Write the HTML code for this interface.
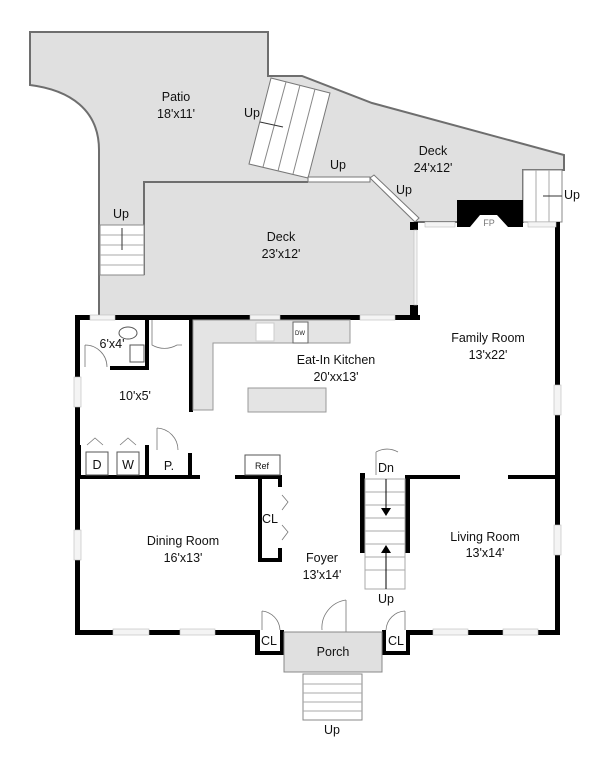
<!DOCTYPE html>
<html><head><meta charset="utf-8"><style>
html,body{margin:0;padding:0;background:#fff}
svg{display:block}
text{font-family:"Liberation Sans",sans-serif;font-size:12.5px;fill:#111;text-anchor:middle}
.s{font-size:11px}
</style></head><body>
<svg width="608" height="768" viewBox="0 0 608 768" xmlns="http://www.w3.org/2000/svg">
<path d="M30,32 L268,32 L268,76 L302,76 L372,103 L564,155 L564,170 L523,170 L523,222 L415,222 L415,318 L99,318 L99,150 C99,110 70,90 30,85 Z" fill="#e0e0e0" stroke="#6e6e6e" stroke-width="2"/>
<path d="M144,275 L144,182 L308,182" fill="none" stroke="#6e6e6e" stroke-width="2"/>
<rect x="100" y="225" width="44" height="50" fill="#fff" stroke="#888"/>
<g stroke="#aaa"><line x1="100" y1="235" x2="144" y2="235"/><line x1="100" y1="245" x2="144" y2="245"/><line x1="100" y1="255" x2="144" y2="255"/><line x1="100" y1="265" x2="144" y2="265"/></g>
<line x1="122" y1="228" x2="122" y2="250" stroke="#333"/>
<polygon points="271,78 330,93 308,178 249,164" fill="#fff" stroke="#777"/>
<g stroke="#888"><line x1="286" y1="82" x2="263" y2="167"/><line x1="300" y1="85" x2="278" y2="171"/><line x1="315" y1="89" x2="293" y2="174"/></g>
<line x1="260" y1="122" x2="283" y2="127" stroke="#333"/>
<rect x="308" y="177" width="62" height="5" fill="#fff" stroke="#777"/>
<polygon points="370,178 374,175 419,218 415,222" fill="#fff" stroke="#777"/>
<rect x="523" y="170" width="39" height="52" fill="#fff" stroke="#888"/>
<g stroke="#aaa"><line x1="536" y1="170" x2="536" y2="222"/><line x1="549" y1="170" x2="549" y2="222"/></g>
<line x1="543" y1="196" x2="562" y2="196" stroke="#333"/>
<rect x="457" y="200" width="66" height="27" fill="#000"/>
<polygon points="470,227 480,215 497,215 508,227" fill="#fff"/>
<text x="489" y="226" style="font-size:9px;fill:#777">FP</text>
<g fill="#000">
<rect x="75" y="315" width="5" height="320"/>
<rect x="75" y="630" width="185" height="5"/>
<rect x="255" y="630" width="5" height="25"/><rect x="255" y="651" width="30" height="4"/>
<rect x="280" y="630" width="4" height="25"/>
<rect x="382" y="630" width="4" height="25"/><rect x="382" y="651" width="28" height="4"/><rect x="406" y="630" width="4" height="25"/>
<rect x="406" y="630" width="154" height="5"/>
<rect x="555" y="222" width="5" height="413"/>
<rect x="410" y="222" width="8" height="8"/><rect x="410" y="305" width="8" height="15"/>
<rect x="75" y="315" width="345" height="5"/>
<rect x="145" y="315" width="4" height="55"/><rect x="110" y="366" width="39" height="4"/>
<rect x="189" y="320" width="4" height="92"/>
<rect x="75" y="475" width="125" height="4"/>
<rect x="78" y="445" width="3" height="32"/><rect x="145" y="445" width="4" height="32"/>
<rect x="188" y="453" width="4" height="25"/>
<rect x="235" y="475" width="45" height="4"/>
<rect x="258" y="475" width="4" height="87"/><rect x="258" y="558" width="24" height="4"/><rect x="278" y="475" width="4" height="12"/><rect x="278" y="548" width="4" height="14"/>
<rect x="360" y="473" width="5" height="80"/><rect x="405" y="475" width="5" height="78"/>
<rect x="405" y="475" width="55" height="4"/><rect x="508" y="475" width="50" height="4"/>
</g>
<g fill="#f4f4f4" stroke="#bbb" stroke-width="0.6">
<rect x="113" y="629" width="36" height="6"/><rect x="180" y="629" width="35" height="6"/>
<rect x="433" y="629" width="35" height="6"/><rect x="503" y="629" width="35" height="6"/>
<rect x="74" y="377" width="7" height="30"/><rect x="74" y="530" width="7" height="30"/>
<rect x="554" y="385" width="7" height="30"/><rect x="554" y="525" width="7" height="30"/>
<rect x="90" y="315" width="25" height="5"/><rect x="250" y="315" width="30" height="5"/><rect x="360" y="315" width="35" height="5"/>
<rect x="425" y="222" width="30" height="5"/><rect x="528" y="222" width="28" height="5"/>
<rect x="414" y="230" width="3" height="75"/>
</g>
<path d="M193,320 L350,320 L350,343 L213,343 L213,410 L193,410 Z" fill="#e4e4e4" stroke="#999"/>
<rect x="248" y="388" width="78" height="24" fill="#e4e4e4" stroke="#999"/>
<rect x="293" y="322" width="15" height="21" fill="#fff" stroke="#666"/><text x="300" y="335" style="font-size:6px">DW</text>
<rect x="256" y="323" width="18" height="18" fill="#fff" stroke="#ccc"/>
<ellipse cx="128" cy="333" rx="9" ry="6" fill="#fff" stroke="#555"/>
<rect x="130" y="345" width="14" height="17" fill="#fff" stroke="#555"/>
<g fill="none" stroke="#777" stroke-width="0.8">
<path d="M152,320 L152,345 A25,25 0 0 0 177,345 L182,345"/>
<path d="M85,345 A22,22 0 0 1 107,367 M85,345 L85,367"/>
<path d="M157,428 L157,450 M157,428 A22,22 0 0 1 178,450"/>
<path d="M376,452 L376,475 M376,452 A22,22 0 0 1 398,452"/>
<path d="M346,600 L346,632 M346,600 A28,28 0 0 0 322,630"/>
<path d="M262,611 L262,630 M262,611 A20,20 0 0 1 280,630"/>
<path d="M405,611 L405,630 M405,611 A20,20 0 0 0 386,630"/>
<path d="M282,495 L288,502 L282,510 M282,525 L288,532 L282,540"/>
<path d="M87,445 L95,438 L103,445 M120,445 L128,438 L136,445"/>
</g>
<rect x="86" y="452" width="22" height="23" fill="#fff" stroke="#555"/><text x="97" y="469">D</text>
<rect x="117" y="452" width="22" height="23" fill="#fff" stroke="#555"/><text x="128" y="469">W</text>
<text x="169" y="470">P.</text>
<rect x="245" y="455" width="35" height="20" fill="#fff" stroke="#555"/><text x="262" y="469" style="font-size:9px">Ref</text>
<rect x="365" y="479" width="40" height="110" fill="#fff" stroke="#aaa"/>
<g stroke="#aaa"><line x1="365" y1="492" x2="405" y2="492"/><line x1="365" y1="505" x2="405" y2="505"/><line x1="365" y1="518" x2="405" y2="518"/><line x1="365" y1="531" x2="405" y2="531"/><line x1="365" y1="544" x2="405" y2="544"/><line x1="365" y1="557" x2="405" y2="557"/><line x1="365" y1="570" x2="405" y2="570"/></g>
<line x1="386" y1="479" x2="386" y2="512" stroke="#000"/><polygon points="381,508 391,508 386,516" fill="#000"/>
<line x1="386" y1="548" x2="386" y2="589" stroke="#000"/><polygon points="381,553 391,553 386,545" fill="#000"/>
<rect x="284" y="632" width="98" height="40" fill="#e0e0e0" stroke="#888"/>
<rect x="303" y="674" width="59" height="46" fill="#fff" stroke="#888"/>
<g stroke="#aaa"><line x1="303" y1="684" x2="362" y2="684"/><line x1="303" y1="693" x2="362" y2="693"/><line x1="303" y1="702" x2="362" y2="702"/><line x1="303" y1="711" x2="362" y2="711"/></g>
<text x="176" y="101">Patio</text><text x="176" y="118">18'x11'</text>
<text x="433" y="155">Deck</text><text x="433" y="172">24'x12'</text>
<text x="281" y="241">Deck</text><text x="281" y="258">23'x12'</text>
<text x="252" y="117">Up</text><text x="338" y="169">Up</text><text x="404" y="194">Up</text><text x="121" y="218">Up</text><text x="572" y="199">Up</text>
<text x="488" y="342">Family Room</text><text x="488" y="359">13'x22'</text>
<text x="336" y="364">Eat-In Kitchen</text><text x="336" y="381">20'xx13'</text>
<text x="112" y="348">6'x4'</text>
<text x="135" y="400">10'x5'</text>
<text x="183" y="545">Dining Room</text><text x="183" y="562">16'x13'</text>
<text x="270" y="523">CL</text>
<text x="322" y="562">Foyer</text><text x="322" y="579">13'x14'</text>
<text x="485" y="541">Living Room</text><text x="485" y="557">13'x14'</text>
<text x="386" y="472">Dn</text><text x="386" y="603">Up</text>
<text x="269" y="645">CL</text><text x="396" y="645">CL</text>
<text x="333" y="656">Porch</text>
<text x="332" y="734">Up</text>
</svg>
</body></html>
